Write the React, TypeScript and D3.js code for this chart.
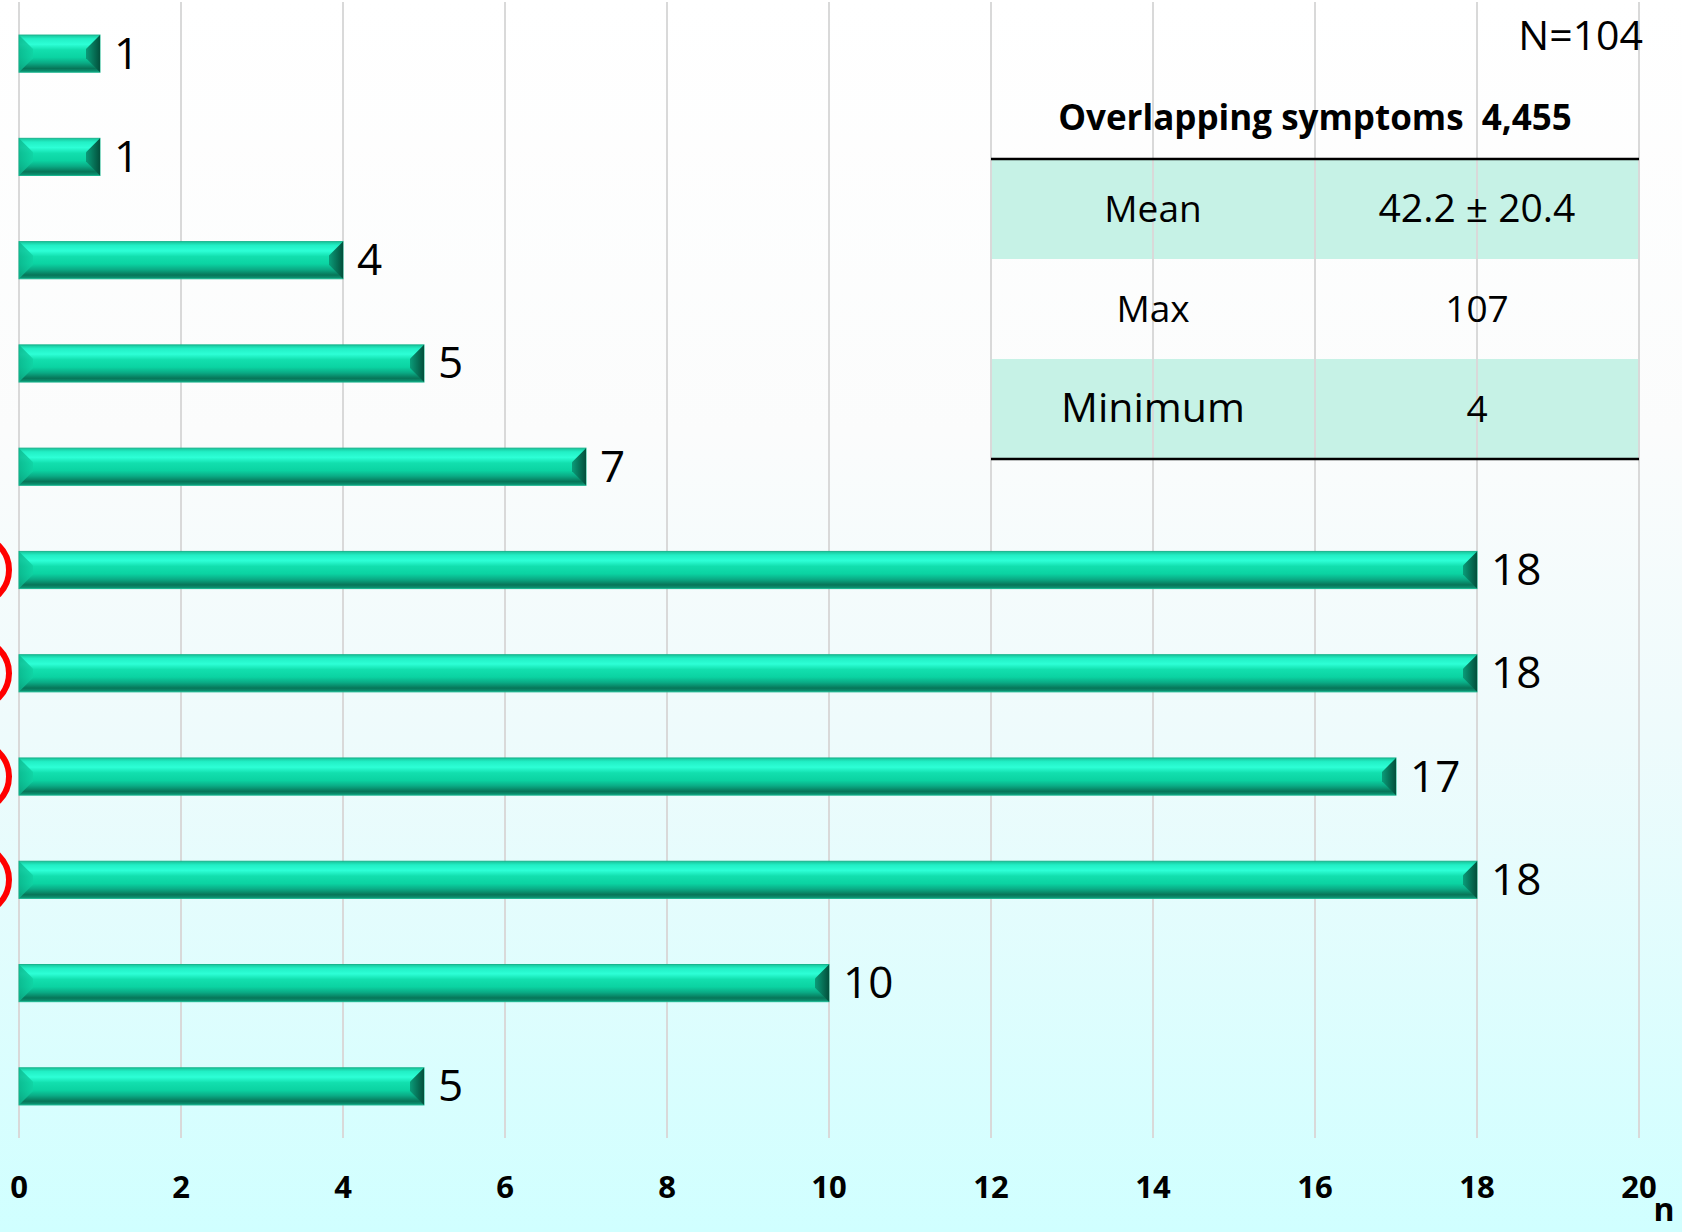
import React from "react";
import * as d3 from "d3";

// counts per row, top to bottom
const counts = [1, 1, 4, 5, 7, 18, 18, 17, 18, 10, 5];
// rows marked with a red circle on the left edge
const circledRows = [5, 6, 7, 8];
const xTicks = [0, 2, 4, 6, 8, 10, 12, 14, 16, 18, 20];

const totalLabel = "N=104";
const tableTitle = "Overlapping symptoms  4,455";
const statLabels = ["Mean", "Max", "Minimum"];
const statValues = ["42.2 ± 20.4", "107", "4"];

const W = 1682;
const H = 1232;
const FONT = "'Open Sans', 'Noto Sans', sans-serif";

const App = () => {
  const x = d3.scaleLinear().domain([0, 20]).range([19, 1639]);
  const y = d3
    .scaleBand<number>()
    .domain(d3.range(counts.length))
    .range([2, 1138])
    .paddingInner(0.64)
    .paddingOuter(0.32);
  const bh = y.bandwidth();
  const bev = 14;

  // table sits between x=12 and x=20, split at 16
  const tL = x(12);
  const tM = x(16);
  const tR = x(20);
  const rowY = d3.scaleBand<number>().domain([0, 1, 2]).range([159, 459]);
  const labelSize = [37, 37, 41];
  const valueSize = [39, 37, 37];

  return (
    <svg
      width={W}
      height={H}
      style={{ position: "absolute", left: 0, top: 0 }}
      fontFamily={FONT}
    >
      <defs>
        <linearGradient id="bg" x1="0" y1="0" x2="0" y2="1">
          <stop offset="0" stopColor="#ffffff" />
          <stop offset="0.35" stopColor="#fbfcfc" />
          <stop offset="0.6" stopColor="#eefbfc" />
          <stop offset="1" stopColor="#d0ffff" />
        </linearGradient>
        <linearGradient id="barFace" x1="0" y1="0" x2="0" y2="1">
          <stop offset="0" stopColor="#17c49a" />
          <stop offset="0.1" stopColor="#22efc5" />
          <stop offset="0.25" stopColor="#2dffd6" />
          <stop offset="0.4" stopColor="#12dfae" />
          <stop offset="0.6" stopColor="#0bd3a2" />
          <stop offset="0.75" stopColor="#0aab85" />
          <stop offset="0.9" stopColor="#077558" />
          <stop offset="1" stopColor="#0c9a78" />
        </linearGradient>
        <linearGradient id="barRight" x1="0" y1="0" x2="1" y2="0">
          <stop offset="0" stopColor="#0a9c79" />
          <stop offset="1" stopColor="#034f3b" />
        </linearGradient>
        <linearGradient id="barLeft" x1="0" y1="0" x2="1" y2="0">
          <stop offset="0" stopColor="#0bb58c" />
          <stop offset="1" stopColor="#10d2a3" />
        </linearGradient>
      </defs>

      <rect width={W} height={H} fill="url(#bg)" />

      {/* stats table fills */}
      {statLabels.map((s, i) =>
        i % 2 === 0 ? (
          <rect
            key={"fill" + s}
            x={tL}
            y={rowY(i)}
            width={tR - tL}
            height={rowY.bandwidth()}
            fill="#c6f2e6"
          />
        ) : null
      )}

      {/* grid */}
      {xTicks.map((t) => (
        <line
          key={"g" + t}
          x1={x(t)}
          x2={x(t)}
          y1={2}
          y2={1138}
          stroke="#d9d9d9"
          strokeWidth={2}
        />
      ))}

      {/* bars */}
      {counts.map((v, i) => {
        const x0 = x(0);
        const x1 = x(v);
        const y0 = y(i)!;
        const y1 = y0 + bh;
        const b = Math.min(bev, (x1 - x0) / 2);
        return (
          <g key={"bar" + i}>
            <rect
              x={x0}
              y={y0}
              width={x1 - x0}
              height={bh}
              fill="url(#barFace)"
              stroke="#19b58e"
              strokeWidth={1}
            />
            <polygon
              points={`${x0},${y0} ${x0 + b},${y0 + b} ${x0 + b},${y1 - b} ${x0},${y1}`}
              fill="url(#barLeft)"
              opacity={0.8}
            />
            <polygon
              points={`${x1},${y0} ${x1 - b},${y0 + b} ${x1 - b},${y1 - b} ${x1},${y1}`}
              fill="url(#barRight)"
            />
            <text
              x={x1 + 14}
              y={y0 + bh / 2 + 15}
              fontSize={44}
              fill="#000"
            >
              {v}
            </text>
          </g>
        );
      })}

      {/* red circles cut by the left edge */}
      {circledRows.map((r) => (
        <circle
          key={"c" + r}
          cx={-25}
          cy={y(r)! + bh / 2}
          r={34}
          fill="none"
          stroke="#ff0000"
          strokeWidth={6}
        />
      ))}

      {/* x axis labels */}
      {xTicks.map((t) => (
        <text
          key={"t" + t}
          x={x(t)}
          y={1198}
          textAnchor="middle"
          fontSize={31}
          fontWeight="bold"
        >
          {t}
        </text>
      ))}
      <text x={1664} y={1221} textAnchor="middle" fontSize={32} fontWeight="bold">
        n
      </text>

      {/* stats table */}
      <text x={1643} y={50} textAnchor="end" fontSize={41}>
        {totalLabel}
      </text>
      <text
        x={(tL + tR) / 2}
        y={130}
        textAnchor="middle"
        fontSize={35}
        fontWeight="bold"
        style={{ whiteSpace: "pre" }}
      >
        {tableTitle}
      </text>
      {statLabels.map((s, i) => (
        <g key={"row" + s}>
          <text
            x={(tL + tM) / 2}
            y={rowY(i)! + rowY.bandwidth() / 2 + 13}
            textAnchor="middle"
            fontSize={labelSize[i]}
          >
            {s}
          </text>
          <text
            x={(tM + tR) / 2}
            y={rowY(i)! + rowY.bandwidth() / 2 + 13}
            textAnchor="middle"
            fontSize={valueSize[i]}
          >
            {statValues[i]}
          </text>
        </g>
      ))}
      <line x1={tL} x2={tR} y1={159} y2={159} stroke="#000" strokeWidth={2.5} />
      <line x1={tL} x2={tR} y1={459} y2={459} stroke="#000" strokeWidth={2.5} />
    </svg>
  );
};

export default App;
